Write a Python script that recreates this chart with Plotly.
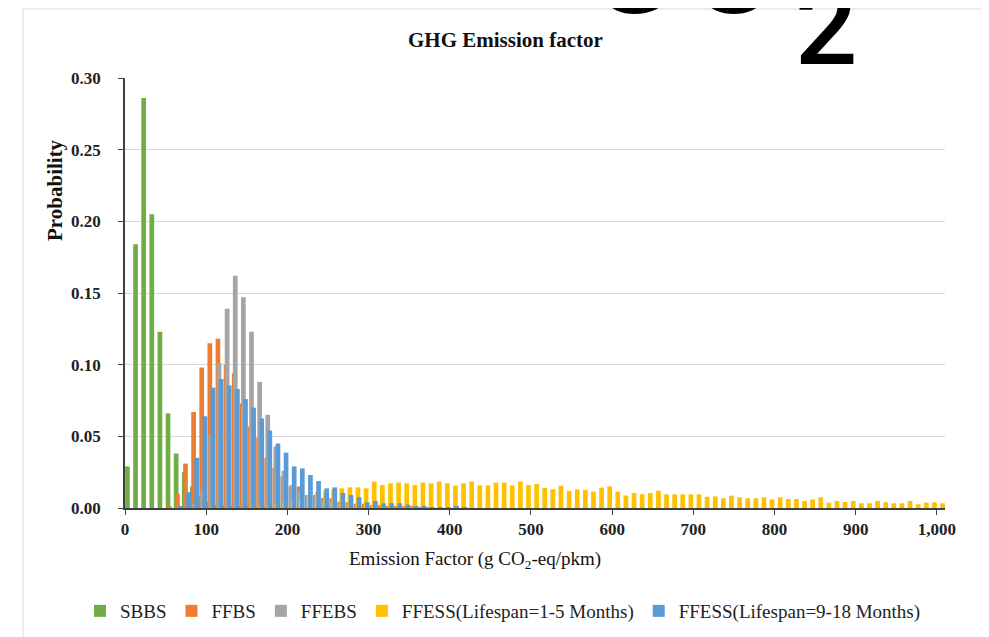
import plotly.graph_objects as go

# Bin lower edges (g CO2-eq/pkm)
bins = list(range(0, 1010, 10))

def pad(vals):
    return vals + [0.0] * (len(bins) - len(vals))

sbbs = pad([0.029, 0.184, 0.286, 0.205, 0.123, 0.066, 0.038, 0.025, 0.015, 0.008,
            0.004, 0.002, 0.002, 0.001, 0.001, 0.001, 0.0005, 0.0005])

ffbs = pad([0, 0, 0, 0, 0, 0.001, 0.010, 0.031, 0.067, 0.098,
            0.115, 0.118, 0.100, 0.094, 0.073, 0.057, 0.049, 0.035, 0.028, 0.022,
            0.015, 0.015, 0.009, 0.009, 0.007, 0.0068, 0.0044, 0.004, 0.003, 0.003,
            0.002, 0.002, 0.0015, 0.001, 0.001, 0.001, 0.0005, 0.0005])

ffebs = pad([0, 0, 0, 0, 0, 0, 0, 0, 0.003, 0.013,
             0.051, 0.101, 0.139, 0.162, 0.147, 0.123, 0.088, 0.065, 0.043, 0.026,
             0.016, 0.012, 0.009, 0.007, 0.005, 0.004, 0.003, 0.002, 0.002, 0.001,
             0.001])

ffess_1_5 = pad([0, 0, 0, 0, 0, 0, 0, 0, 0, 0,
                 0, 0, 0, 0, 0, 0.001, 0.001, 0.002, 0.003, 0.004,
                 0.005, 0.007, 0.009, 0.011, 0.012, 0.013, 0.0137, 0.0144, 0.0144, 0.0137,
                 0.0184, 0.016, 0.0172, 0.0177, 0.0172, 0.016, 0.0177, 0.0172, 0.0184, 0.0172,
                 0.0156, 0.0172, 0.0184, 0.0158, 0.0158, 0.0177, 0.0177, 0.0157, 0.0184, 0.016,
                 0.0167, 0.014, 0.0131, 0.0156, 0.012, 0.013, 0.0126, 0.0114, 0.0143, 0.0151,
                 0.0114, 0.0087, 0.0104, 0.0096, 0.0104, 0.012, 0.0095, 0.0095, 0.0095, 0.0095,
                 0.0095, 0.0078, 0.0081, 0.0068, 0.0086, 0.0075, 0.0068, 0.0068, 0.0075, 0.006,
                 0.0075, 0.0063, 0.0063, 0.0049, 0.006, 0.0075, 0.0037, 0.0049, 0.0042, 0.0049,
                 0.0033, 0.0033, 0.0049, 0.004, 0.0033, 0.0033, 0.0049, 0.0026, 0.0037, 0.004,
                 0.0033])

ffess_9_18 = pad([0, 0, 0, 0, 0, 0, 0.001, 0.011, 0.035, 0.064,
                  0.084, 0.090, 0.0855, 0.083, 0.076, 0.070, 0.0625, 0.054, 0.045, 0.0386,
                  0.029, 0.0276, 0.023, 0.0188, 0.0137, 0.0144, 0.0105, 0.009, 0.0075, 0.004,
                  0.0049, 0.0033, 0.0033, 0.0033, 0.0023, 0.0014, 0.0014, 0.0005, 0.0005, 0.0005,
                  0.0014, 0.0005])

series_names = ["SBBS", "FFBS", "FFEBS",
                "FFESS(Lifespan=1-5 Months)", "FFESS(Lifespan=9-18 Months)"]
series_values = [sbbs, ffbs, ffebs, ffess_1_5, ffess_9_18]
series_colors = ["#70AD47", "#ED7D31", "#A5A5A5", "#FFC000", "#5B9BD5"]
series_offsets = [0.1, 1.6, 2.9, 4.1, 5.5]
bar_width = 5.8

x_ticks = list(range(0, 1001, 100))

SERIF = "Liberation Serif, Times New Roman, serif"

fig = go.Figure()
for name, vals, col, off in zip(series_names, series_values, series_colors, series_offsets):
    fig.add_trace(go.Bar(x=bins, y=vals, name=name, marker_color=col,
                         marker_line_width=0, width=bar_width, offset=off))

# The page body adds an 8px margin; the figure is sized to fit the window.
W, H = 981, 629
L, R, T, B = 117, 44, 70, 129
# plot area in screenshot pixels: x 125..945, y 78..508
PX0, PX1, PY0, PY1 = 125, 945, 78, 508

def px(xp):
    return (xp - PX0) / (PX1 - PX0)

def py(yp):
    return (PY1 - yp) / (PY1 - PY0)

fig.update_layout(
    width=W, height=H,
    margin=dict(l=L, r=R, t=T, b=B, autoexpand=False),
    paper_bgcolor="white", plot_bgcolor="white",
    barmode="overlay",
    showlegend=True,
    legend=dict(orientation="h", x=px(80), y=py(611), xanchor="left", yanchor="middle",
                font=dict(family=SERIF, size=19, color="#222222"),
                itemwidth=30, traceorder="normal", bgcolor="rgba(0,0,0,0)"),
    font=dict(family=SERIF, color="#222222"),
)

fig.update_xaxes(range=[0, 1010], tickvals=x_ticks, tickformat=",d",
                 showgrid=False, zeroline=False,
                 showline=True, linecolor="#404040", linewidth=1.5,
                 ticks="outside", ticklen=5, tickcolor="#404040",
                 tickfont=dict(family=SERIF, size=17, color="#222222", weight="bold"))
fig.update_yaxes(range=[0, 0.30], dtick=0.05, tickformat=".2f",
                 showgrid=True, gridcolor="#D9D9D9", gridwidth=1, zeroline=False,
                 showline=True, linecolor="#404040", linewidth=1.5,
                 ticks="outside", ticklen=5, tickcolor="#404040", ticklabelstandoff=14,
                 tickfont=dict(family=SERIF, size=17, color="#222222", weight="bold"))

annos = [
    dict(text="<b>GHG Emission factor</b>", x=px(505), y=py(40), size=21),
    dict(text="<b>Probability</b>", x=px(55), y=py(190), textangle=-90, size=21),
    dict(text="Emission Factor (g CO<sub>2</sub>-eq/pkm)", x=px(475), y=py(560), size=19),
]
for a in annos:
    a = dict(a)
    size = a.pop("size")
    fig.add_annotation(xref="paper", yref="paper", showarrow=False,
                       xanchor="center", yanchor="middle",
                       font=dict(family=SERIF, color="#111111", size=size), **a)

# CO2 icon, partially visible at the top edge of the picture
fig.add_annotation(xref="paper", yref="paper", showarrow=False, text="CO",
                   x=px(684), y=py(52), xanchor="center", yanchor="bottom",
                   font=dict(family="Roboto", size=150, color="black", weight=500))
fig.add_annotation(xref="paper", yref="paper", showarrow=False, text="2",
                   x=px(826), y=py(93), xanchor="center", yanchor="bottom",
                   font=dict(family="Roboto", size=110, color="black", weight=500))

# chart frame
fig.add_shape(type="rect", xref="paper", yref="paper",
              x0=px(23), x1=px(983), y0=py(660), y1=py(9),
              line=dict(color="#D9D9D9", width=1), fillcolor="rgba(0,0,0,0)", layer="below")

fig.write_html("out.html")
